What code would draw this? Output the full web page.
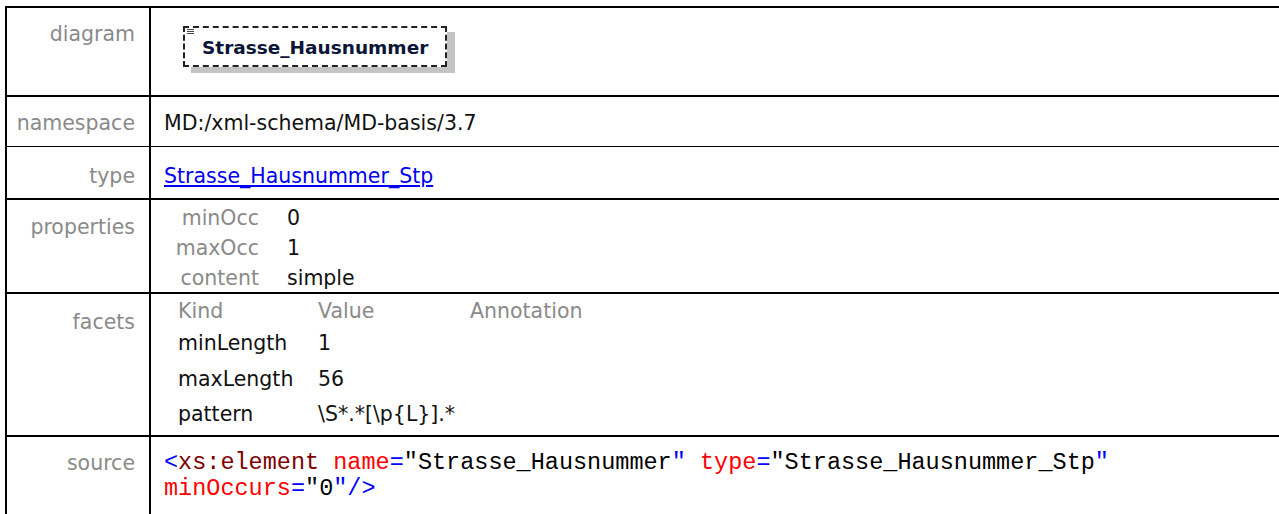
<!DOCTYPE html>
<html>
<head>
<meta charset="utf-8">
<script src="https://cdn.jsdelivr.net/npm/chart.js@4"></script>
<style>
  body { margin: 0; background: #fff; width: 1279px; height: 514px; overflow: hidden; position: relative;
         font-family: "DejaVu Sans", sans-serif; font-size: 20.5px; color: #111; }
  .hl { position: absolute; left: 5px; width: 1300px; background: #000; }
  .vl { position: absolute; top: 6px; bottom: 0; width: 2px; background: #000; }
  .t { position: absolute; white-space: nowrap; line-height: 24px; }
  .lab { color: #8a8a8a; text-align: right; }
  .code { font-family: "Liberation Mono", monospace; font-size: 23.5px; line-height: 26px; }
  .box { position: absolute; left: 183px; top: 26px; width: 260px; height: 37px; border: 2px dashed #222;
         background: #fff; box-shadow: 8px 6px 0 #c4c4c4; }
  .box span { position: absolute; left: 17px; top: 10px; font-weight: bold; font-size: 18.5px; line-height: 20px; color: #0a1538; }
  .box i { position: absolute; left: 2px; top: 1px; width: 7px; height: 1px; background: #444;
           box-shadow: 0 2px 0 #444, 0 4px 0 #444; }
  a { color: #0000ee; }
</style>
</head>
<body>
<div id="page"></div>
<script>
// --- CONTEÚDO ---
const rowLabels = ["diagram", "namespace", "type", "properties", "facets", "source"];
const elementName = "Strasse_Hausnummer";
const namespaceUri = "MD:/xml-schema/MD-basis/3.7";
const typeName = "Strasse_Hausnummer_Stp";
const propNames = ["minOcc", "maxOcc", "content"];
const propValues = ["0", "1", "simple"];
const facetHeader = ["Kind", "Value", "Annotation"];
const facetKinds = ["minLength", "maxLength", "pattern"];
const facetValues = ["1", "56", "\\S*.*[\\p{L}].*"];
const minOccurs = "0";

const page = document.getElementById("page");
const add = (html) => page.insertAdjacentHTML("beforeend", html);
const esc = (s) => s.replace(/&/g, "&amp;").replace(/</g, "&lt;");
const rowTop = (cy) => cy - 12; // centro da linha -> topo

// linhas da tabela
[[6, 2], [95, 2], [146, 1], [198, 2], [292, 2], [435, 2]].forEach(([y, h]) =>
  add(`<div class="hl" style="top:${y}px;height:${h}px"></div>`));
[5, 149].forEach(x => add(`<div class="vl" style="left:${x}px"></div>`));

// rótulos à esquerda
const labelY = [34, 123, 176, 227, 322, 463];
rowLabels.forEach((l, i) =>
  add(`<div class="t lab" style="left:8px;width:127px;top:${rowTop(labelY[i])}px">${l}</div>`));

// diagram
add(`<div class="box"><i></i><span>${elementName}</span></div>`);

// namespace / type
add(`<div class="t" style="left:164px;top:${rowTop(123)}px">${namespaceUri}</div>`);
add(`<div class="t" style="left:164px;top:${rowTop(176)}px"><a href="#">${typeName}</a></div>`);

// properties
const propY = [218, 248, 278];
propNames.forEach((p, i) => {
  add(`<div class="t lab" style="left:160px;width:99px;top:${rowTop(propY[i])}px">${p}</div>`);
  add(`<div class="t" style="left:287px;top:${rowTop(propY[i])}px">${propValues[i]}</div>`);
});

// facets
const facetX = [178, 318, 470];
facetHeader.forEach((h, i) =>
  add(`<div class="t lab" style="text-align:left;left:${facetX[i]}px;top:${rowTop(311)}px">${h}</div>`));
const facetY = [343, 379, 414];
facetKinds.forEach((k, i) => {
  add(`<div class="t" style="left:${facetX[0]}px;top:${rowTop(facetY[i])}px">${k}</div>`);
  add(`<div class="t" style="left:${facetX[1]}px;top:${rowTop(facetY[i])}px">${esc(facetValues[i])}</div>`);
});

// source
const B = (s) => `<span style="color:#0000ff">${esc(s)}</span>`;
const E = (s) => `<span style="color:#800000">${esc(s)}</span>`;
const R = (s) => `<span style="color:#ff0000">${esc(s)}</span>`;
const K = (s) => `<span style="color:#000">${esc(s)}</span>`;
add(`<div class="t code" style="left:164px;top:450px">` +
  B("<") + E("xs:element") + " " + R("name") + B("=") + K('"' + elementName) + B('"') + " " +
  R("type") + B("=") + K('"' + typeName) + B('"') + "<br>" +
  R("minOccurs") + B("=") + K('"' + minOccurs) + B('"') + B("/>") + `</div>`);
</script>
</body>
</html>
